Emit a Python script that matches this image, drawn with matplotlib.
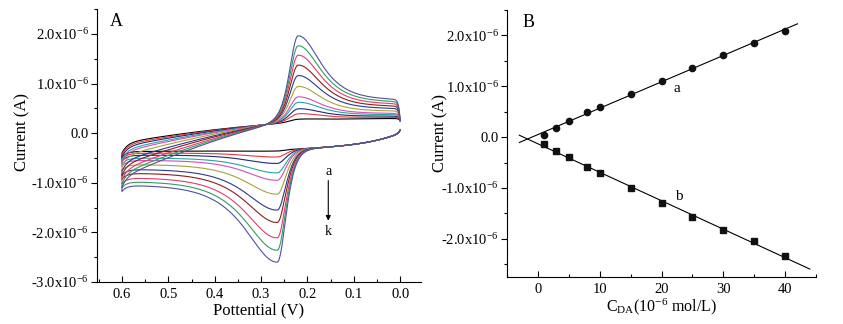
import numpy as np
import matplotlib
matplotlib.use("Agg")
import matplotlib.pyplot as plt
from matplotlib.ticker import MultipleLocator, FuncFormatter

plt.rcParams['font.family'] = ['Liberation Serif', 'DejaVu Serif']
plt.rcParams['mathtext.fontset'] = 'custom'
plt.rcParams['mathtext.rm'] = 'Liberation Serif'
plt.rcParams['mathtext.it'] = 'Liberation Serif:italic'

# ---- panel A: CV curves a..k (in uA) ----
curve_names = list("abcdefghijk")
curve_colors = ["#000000", "#e8383a", "#1f2a78", "#2aa3a3", "#d24fb4", "#a8a33a",
                "#2b3a8c", "#8c1d1d", "#e63b6b", "#2ea05a", "#5050a0"]
top_peak = [0.28, 0.39, 0.49, 0.62, 0.73, 0.94, 1.16, 1.37, 1.57, 1.76, 1.96]      # at 0.22 V
bottom_peak = [-0.36, -0.48, -0.61, -0.80, -0.95, -1.23, -1.55, -1.80, -2.11, -2.36, -2.60]  # at 0.265 V
ep_top = 0.22
ep_bottom = 0.265

# ---- panel B: calibration data ----
conc = [1, 3, 5, 8, 10, 15, 20, 25, 30, 35, 40]
ipa = [0.05, 0.19, 0.31, 0.49, 0.59, 0.85, 1.11, 1.37, 1.62, 1.85, 2.09]
ipc = [-0.14, -0.28, -0.39, -0.59, -0.71, -1.00, -1.29, -1.57, -1.83, -2.05, -2.33]


def peak_shape(x, l_rise, l_fall, r):
    rise = 1 / np.cosh(x / l_rise) ** 2
    fall = r + (1 - r) / np.cosh(x / l_fall)
    return np.where(x < 0, rise, fall)


def bg_bottom(E):
    return (-0.33 * (1 - np.exp(-E / 0.09)) - 0.05 * E
            - 0.12 * np.exp(-(0.6 - E) / 0.01) + 0.06 * np.exp(-E / 0.004))


def bg_top(E):
    return 0.28 - 1.3 * E ** 2 - 0.2 * np.exp(-(0.6 - E) / 0.012)


E_fwd = np.linspace(0, 0.6, 1201)
E_rev = E_fwd[::-1]

fig = plt.figure(figsize=(8.43, 3.24), dpi=100)
axA = fig.add_axes([0.115, 0.1296, 0.3844, 0.8424])
axB = fig.add_axes([0.6014, 0.145, 0.3666, 0.824])

for i in range(len(curve_names)):
    pc = float(bg_bottom(ep_bottom)) - bottom_peak[i]
    pa = top_peak[i] - float(bg_top(ep_top))
    bottom = bg_bottom(E_fwd) - pc * peak_shape(E_fwd - ep_bottom, 0.025, 0.06, 0.3)
    tail = pc * float(peak_shape(np.array(0.6 - ep_bottom), 0.025, 0.06, 0.3))
    top = (bg_top(E_rev) + pa * peak_shape(ep_top - E_rev, 0.025, 0.043, 0.22)
           - tail * np.clip((E_rev - 0.27) / 0.33, 0, None) ** 1.2)
    top = top - (top[-1] - 0.25) * np.exp(-E_rev / 0.003)
    E = np.concatenate([E_fwd, E_rev])
    I = np.concatenate([bottom, top]) * 1e-6
    axA.plot(E, I, color=curve_colors[i], lw=0.8)

axA.annotate("", xy=(0.155, -1.82e-6), xytext=(0.155, -0.9e-6),
             arrowprops=dict(arrowstyle="-|>", color="black", lw=0.8, mutation_scale=7))
axA.text(0.155, -0.77e-6, "a", ha="center", va="center", fontsize=10)
axA.text(0.155, -1.99e-6, "k", ha="center", va="center", fontsize=10)

axA.set_xlim(0.654, -0.045)
axA.set_ylim(-3.0e-6, 2.5e-6)
axA.set_xlabel("Pottential (V)", fontsize=12, labelpad=1)
axA.set_ylabel("Current (A)", fontsize=12)
axA.yaxis.set_label_coords(-0.205, 0.55)
axA.text(0.04, 0.955, "A", transform=axA.transAxes, fontsize=13, va="center")
axA.xaxis.set_major_locator(MultipleLocator(0.1))
axA.xaxis.set_minor_locator(MultipleLocator(0.05))
axA.xaxis.set_major_formatter(FuncFormatter(lambda v, p: f"{abs(v):.1f}"))

# panel B
cx = np.array(conc)
fa = np.polyfit(cx, ipa, 1)
fc = np.polyfit(cx, ipc, 1)
xa = np.array([-3, 42])
xc = np.array([-3, 44])
axB.plot(xa, np.polyval(fa, xa) * 1e-6, color="black", lw=0.8)
axB.plot(xc, np.polyval(fc, xc) * 1e-6, color="black", lw=0.8)
axB.plot(cx, np.array(ipa) * 1e-6, "o", color="#111111", ms=4.5)
axB.plot(cx, np.array(ipc) * 1e-6, "s", color="#111111", ms=4)
axB.text(22.5, 0.95e-6, "a", ha="center", va="center", fontsize=11)
axB.text(22.8, -1.17e-6, "b", ha="center", va="center", fontsize=11)
axB.set_xlim(-5, 45)
axB.set_ylim(-2.75e-6, 2.5e-6)
axB.set_xlabel(r"C$_{\rm DA}$(10$^{-6}$ mol/L)", fontsize=11.5, labelpad=1)
axB.set_ylabel("Current (A)", fontsize=12)
axB.yaxis.set_label_coords(-0.19, 0.54)
axB.text(0.05, 0.955, "B", transform=axB.transAxes, fontsize=13, va="center")
axB.xaxis.set_major_locator(MultipleLocator(10))
axB.xaxis.set_minor_locator(MultipleLocator(5))


def ylab(v, p):
    if abs(v) < 1e-12:
        return "0.0"
    return f"{v * 1e6:.1f}x10$^{{-6}}$"


for ax in (axA, axB):
    ax.spines["top"].set_visible(False)
    ax.spines["right"].set_visible(False)
    ax.yaxis.set_major_locator(MultipleLocator(1e-6))
    ax.yaxis.set_minor_locator(MultipleLocator(0.5e-6))
    ax.yaxis.set_major_formatter(FuncFormatter(ylab))
    ax.tick_params(which="both", labelsize=10.5)
    ax.tick_params(axis="y", which="both", direction="out", pad=2)
    ax.tick_params(axis="x", which="both", direction="in", pad=4)
    ax.tick_params(which="major", length=4, width=0.8)
    ax.tick_params(which="minor", length=2.5, width=0.8)
    for s in ("left", "bottom"):
        ax.spines[s].set_linewidth(0.8)

fig.savefig("out.png", dpi=100)
